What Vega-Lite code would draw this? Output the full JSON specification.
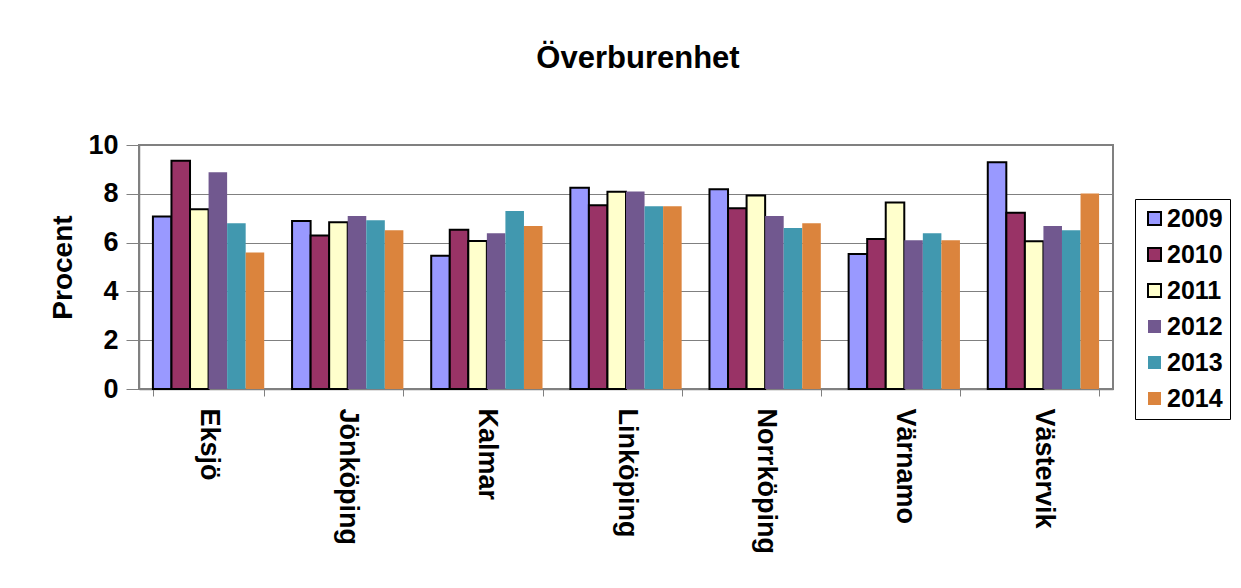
{
  "$schema": "https://vega.github.io/schema/vega-lite/v6.json",
  "autosize": "none",
  "width": 974,
  "height": 244,
  "padding": {"left": 139, "top": 145, "right": 128, "bottom": 199},
  "background": "white",
  "title": {
    "text": "Överburenhet",
    "font": "Liberation Sans",
    "fontSize": 31,
    "fontWeight": "bold",
    "color": "#000000",
    "anchor": "middle",
    "offset": 56,
    "dx": 12
  },
  "data": {
    "values": [
      {"city": "Eksjö", "year": "2009", "value": 7.07},
      {"city": "Eksjö", "year": "2010", "value": 9.35},
      {"city": "Eksjö", "year": "2011", "value": 7.37},
      {"city": "Eksjö", "year": "2012", "value": 8.88},
      {"city": "Eksjö", "year": "2013", "value": 6.79},
      {"city": "Eksjö", "year": "2014", "value": 5.59},
      {"city": "Jönköping", "year": "2009", "value": 6.89},
      {"city": "Jönköping", "year": "2010", "value": 6.29},
      {"city": "Jönköping", "year": "2011", "value": 6.83},
      {"city": "Jönköping", "year": "2012", "value": 7.09},
      {"city": "Jönköping", "year": "2013", "value": 6.92},
      {"city": "Jönköping", "year": "2014", "value": 6.51},
      {"city": "Kalmar", "year": "2009", "value": 5.46},
      {"city": "Kalmar", "year": "2010", "value": 6.53},
      {"city": "Kalmar", "year": "2011", "value": 6.07},
      {"city": "Kalmar", "year": "2012", "value": 6.38},
      {"city": "Kalmar", "year": "2013", "value": 7.3},
      {"city": "Kalmar", "year": "2014", "value": 6.68},
      {"city": "Linköping", "year": "2009", "value": 8.25},
      {"city": "Linköping", "year": "2010", "value": 7.53},
      {"city": "Linköping", "year": "2011", "value": 8.08},
      {"city": "Linköping", "year": "2012", "value": 8.09},
      {"city": "Linköping", "year": "2013", "value": 7.49},
      {"city": "Linköping", "year": "2014", "value": 7.49},
      {"city": "Norrköping", "year": "2009", "value": 8.19},
      {"city": "Norrköping", "year": "2010", "value": 7.41},
      {"city": "Norrköping", "year": "2011", "value": 7.93},
      {"city": "Norrköping", "year": "2012", "value": 7.09},
      {"city": "Norrköping", "year": "2013", "value": 6.6},
      {"city": "Norrköping", "year": "2014", "value": 6.79},
      {"city": "Värnamo", "year": "2009", "value": 5.53},
      {"city": "Värnamo", "year": "2010", "value": 6.15},
      {"city": "Värnamo", "year": "2011", "value": 7.64},
      {"city": "Värnamo", "year": "2012", "value": 6.1},
      {"city": "Värnamo", "year": "2013", "value": 6.38},
      {"city": "Värnamo", "year": "2014", "value": 6.1},
      {"city": "Västervik", "year": "2009", "value": 9.29},
      {"city": "Västervik", "year": "2010", "value": 7.22},
      {"city": "Västervik", "year": "2011", "value": 6.06},
      {"city": "Västervik", "year": "2012", "value": 6.68},
      {"city": "Västervik", "year": "2013", "value": 6.51},
      {"city": "Västervik", "year": "2014", "value": 8.01}
    ]
  },
  "mark": {"type": "bar", "strokeWidth": 2},
  "encoding": {
    "x": {
      "field": "city",
      "type": "nominal",
      "sort": null,
      "scale": {"paddingInner": 0.2, "paddingOuter": 0.1},
      "axis": {
        "title": null,
        "labelAngle": 90,
        "labelAlign": "left",
        "labelBaseline": "middle",
        "labelFont": "Liberation Sans",
        "labelFontSize": 27,
        "labelFontWeight": "bold",
        "labelColor": "#000000",
        "labelPadding": 12,
        "tickBand": "extent",
        "tickSize": 7,
        "tickColor": "#808080",
        "domainColor": "#808080",
        "domainWidth": 1.5
      }
    },
    "xOffset": {"field": "year", "type": "nominal"},
    "y": {
      "field": "value",
      "type": "quantitative",
      "scale": {"domain": [0, 10], "nice": false},
      "axis": {
        "title": "Procent",
        "titleFont": "Liberation Sans",
        "titleFontSize": 28,
        "titleFontWeight": "bold",
        "titleColor": "#000000",
        "titlePadding": 10,
        "values": [0, 2, 4, 6, 8, 10],
        "labelFont": "Liberation Sans",
        "labelFontSize": 27,
        "labelFontWeight": "bold",
        "labelColor": "#000000",
        "labelPadding": 8,
        "tickSize": 13,
        "tickColor": "#808080",
        "domainColor": "#808080",
        "domainWidth": 1.5,
        "gridColor": "#808080",
        "gridWidth": 1.2
      }
    },
    "fill": {
      "field": "year",
      "type": "nominal",
      "scale": {
        "domain": ["2009", "2010", "2011", "2012", "2013", "2014"],
        "range": ["#9999FF", "#993366", "#FFFFCC", "#71588F", "#4198AF", "#DB843D"]
      },
      "legend": {"title": null}
    },
    "stroke": {
      "field": "year",
      "type": "nominal",
      "scale": {
        "domain": ["2009", "2010", "2011", "2012", "2013", "2014"],
        "range": ["#000000", "#000000", "#000000", "transparent", "transparent", "transparent"]
      },
      "legend": {"title": null}
    }
  },
  "config": {
    "view": {"stroke": "#808080", "strokeWidth": 2},
    "legend": {
      "orient": "none",
      "legendX": 996,
      "legendY": 54,
      "strokeColor": "#000000",
      "fillColor": "white",
      "padding": 7,
      "symbolType": "square",
      "symbolSize": 169,
      "symbolStrokeWidth": 2,
      "labelFont": "Liberation Sans",
      "labelFontSize": 25,
      "labelFontWeight": "bold",
      "labelColor": "#000000",
      "labelOffset": 0,
      "rowPadding": 10
    }
  }
}
